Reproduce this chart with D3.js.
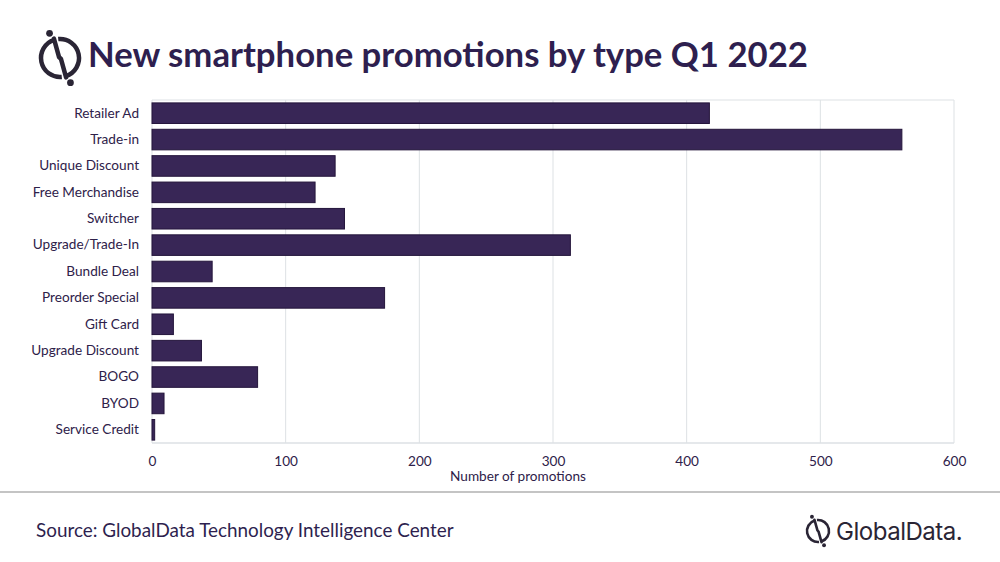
<!DOCTYPE html>
<html>
<head>
<meta charset="utf-8">
<script src="https://cdn.jsdelivr.net/npm/d3@7"></script>
<style>
  html, body { margin: 0; padding: 0; background: #fff; }
  svg { display: block; }
</style>
</head>
<body>
<svg id="chart" width="1000" height="562"></svg>
<script>
const categories = ["Retailer Ad","Trade-in","Unique Discount","Free Merchandise","Switcher","Upgrade/Trade-In","Bundle Deal","Preorder Special","Gift Card","Upgrade Discount","BOGO","BYOD","Service Credit"];
const values = [417, 561, 137, 122, 144, 313, 45, 174, 16, 37, 79, 9, 2];
const xTicks = [0, 100, 200, 300, 400, 500, 600];
const titleText = "New smartphone promotions by type Q1 2022";
const xAxisTitle = "Number of promotions";
const sourceText = "Source: GlobalData Technology Intelligence Center";

const svg = d3.select("#chart");
const textColor = "#2e2149";
const barFill = "#382656";
const barStroke = "#24153b";
const gridColor = "#dde1e4";
const font = "Lato, 'Open Sans', sans-serif";

const plot = {left: 152, right: 954, top: 100, bottom: 443};

const x = d3.scaleLinear().domain([0, 600]).range([plot.left, plot.right]);
const y = d3.scaleBand().domain(categories).range([plot.top, plot.bottom]).paddingInner(0.22).paddingOuter(0.11);

// Title
const title = svg.append("text")
  .attr("x", 88).attr("y", 67)
  .attr("fill", "#2e1f4f")
  .style("font-family", font)
  .style("font-weight", "bold")
  .style("font-size", "31px")
  .text(titleText);
const tw = title.node().getComputedTextLength();
title.style("font-size", (31 * 720 / tw).toFixed(2) + "px");

// Logo icon
function logo(g, cx, cy, r, color, sw) {
  const arc = d3.arc();
  g.append("path")
    .attr("transform", `translate(${cx},${cy})`)
    .attr("d", arc({innerRadius: r - sw/2, outerRadius: r + sw/2, startAngle: Math.PI * 0.97, endAngle: Math.PI * 1.9}))
    .attr("fill", color);
  g.append("path")
    .attr("transform", `translate(${cx},${cy})`)
    .attr("d", arc({innerRadius: r - sw/2, outerRadius: r + sw/2, startAngle: -0.03 * Math.PI, endAngle: Math.PI * 0.9}))
    .attr("fill", color);
  g.append("path")
    .attr("d", `M${cx - r*0.32},${cy - r*1.02} L${cx - r*0.05},${cy - r*0.05} L${cx + r*0.05},${cy + r*0.05} L${cx + r*0.32},${cy + r*1.02}`)
    .attr("fill", "none").attr("stroke", color).attr("stroke-width", sw).attr("stroke-linecap", "round")
    .attr("stroke-linejoin", "round");
  g.append("circle").attr("cx", cx - r*0.55).attr("cy", cy - r*1.3).attr("r", sw*0.75).attr("fill", color);
  g.append("circle").attr("cx", cx + r*0.55).attr("cy", cy + r*1.3).attr("r", sw*0.75).attr("fill", color);
}
logo(svg.append("g"), 60, 58, 19, "#2a2535", 4.5);

// Gridlines and frame
const grid = svg.append("g");
grid.selectAll("line.v").data(xTicks).enter().append("line")
  .attr("x1", d => x(d)).attr("x2", d => x(d))
  .attr("y1", plot.top).attr("y2", plot.bottom)
  .attr("stroke", gridColor).attr("stroke-width", 1);
grid.append("line").attr("x1", plot.left).attr("x2", plot.right).attr("y1", plot.top).attr("y2", plot.top)
  .attr("stroke", gridColor).attr("stroke-width", 1);
grid.append("line").attr("x1", plot.left).attr("x2", plot.right).attr("y1", plot.bottom).attr("y2", plot.bottom)
  .attr("stroke", gridColor).attr("stroke-width", 1.5);

// Bars
svg.append("g").selectAll("rect").data(categories).enter().append("rect")
  .attr("x", x(0))
  .attr("y", d => y(d))
  .attr("width", (d, i) => x(values[i]) - x(0))
  .attr("height", y.bandwidth())
  .attr("fill", barFill)
  .attr("stroke", barStroke)
  .attr("stroke-width", 1);

// Y axis labels
const yAxis = d3.axisLeft(y).tickSize(0).tickPadding(13);
const yg = svg.append("g").attr("transform", `translate(${plot.left},0)`).call(yAxis);
yg.select(".domain").remove();
yg.selectAll("text").attr("fill", textColor).style("font-family", font).style("font-size", "13.6px");

// X axis
const xAxis = d3.axisBottom(x).tickValues(xTicks).tickSize(0).tickPadding(13);
const xg = svg.append("g").attr("transform", `translate(0,${plot.bottom})`).call(xAxis);
xg.select(".domain").remove();
xg.selectAll("text").attr("fill", textColor).style("font-family", font).style("font-size", "13.6px");

svg.append("text")
  .attr("x", 518).attr("y", 481)
  .attr("text-anchor", "middle").attr("fill", textColor)
  .style("font-family", font).style("font-size", "13.6px")
  .text(xAxisTitle);

// Separator
svg.append("line").attr("x1", 0).attr("x2", 1000).attr("y1", 492).attr("y2", 492)
  .attr("stroke", "#c4c4c4").attr("stroke-width", 2);

// Source
const src = svg.append("text")
  .attr("x", 36).attr("y", 537)
  .attr("fill", "#2e1f4f")
  .style("font-family", font).style("font-size", "18px")
  .text(sourceText);
const sw = src.node().getComputedTextLength();
src.style("font-size", (18 * 418 / sw).toFixed(2) + "px");

// Bottom logo
logo(svg.append("g"), 818, 531, 11, "#2a2535", 2.6);
const gd = svg.append("text")
  .attr("x", 836).attr("y", 540)
  .attr("fill", "#2a2535")
  .style("font-family", "Inter, 'Noto Sans', sans-serif").style("font-size", "23px")
  .style("letter-spacing", "-0.5px")
  .text("GlobalData.");
const gw = gd.node().getComputedTextLength();
gd.style("font-size", (23 * 126 / gw).toFixed(2) + "px");
</script>
</body>
</html>
